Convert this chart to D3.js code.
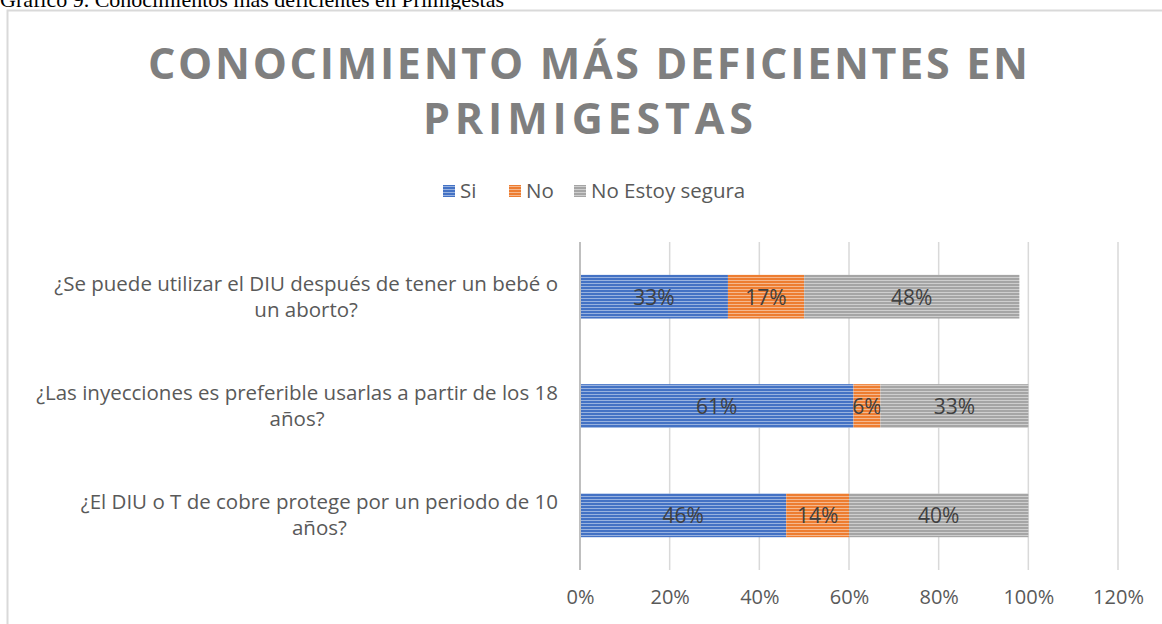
<!DOCTYPE html>
<html lang="es">
<head>
<meta charset="UTF-8">
<title>Conocimiento más deficientes en primigestas</title>
<style>
  body { margin: 0; background: #fff; }
  svg { display: block; }
</style>
</head>
<body>
<svg width="1162" height="624"></svg>
<script src="https://d3js.org/d3.v7.min.js"></script>
<script>

var categories = [
    ["¿Se puede utilizar el DIU después de tener un bebé o", "un aborto?"],
    ["¿Las inyecciones es preferible usarlas a partir de los 18", "años?"],
    ["¿El DIU o T de cobre protege por un periodo de 10", "años?"]
];
var seriesNames = ["Si", "No", "No Estoy segura"];
var siValues = [0.33, 0.61, 0.46];
var noValues = [0.17, 0.06, 0.14];
var noSeguraValues = [0.48, 0.33, 0.40];
var tickValues = [0, 0.2, 0.4, 0.6, 0.8, 1.0, 1.2];
var colors = ["#4472C4", "#ED7D31", "#A5A5A5"];

var svg = d3.select("svg");
var font = "'Open Sans', sans-serif";

// stripe patterns like the excel "narrow horizontal" fill
var defs = svg.append("defs");
colors.forEach(function(c, i) {
    var p = defs.append("pattern")
        .attr("id", "stripe" + i)
        .attr("patternUnits", "userSpaceOnUse")
        .attr("width", 8).attr("height", 3);
    p.append("rect").attr("width", 8).attr("height", 3).attr("fill", c);
    p.append("rect").attr("y", 1).attr("width", 8).attr("height", 1)
        .attr("fill", "#fff").attr("opacity", 0.45);
});

// caption above the frame (cut off at top, as in the source)
svg.append("text")
    .attr("x", 0).attr("y", 7)
    .attr("font-family", "'Liberation Serif', 'Times New Roman', serif")
    .attr("font-size", 22)
    .attr("fill", "#000")
    .text("Gráfico 9. Conocimientos más deficientes en Primigestas");

// chart frame
svg.append("rect")
    .attr("x", 7.5).attr("y", 10.5)
    .attr("width", 1170).attr("height", 640)
    .attr("fill", "#fff")
    .attr("stroke", "#d9d9d9").attr("stroke-width", 2);

// title
var titleLines = ["CONOCIMIENTO MÁS DEFICIENTES EN", "PRIMIGESTAS"];
var titleLens = [880, 330];
svg.selectAll(".title")
    .data(titleLines)
    .enter().append("text")
    .attr("class", "title")
    .attr("x", 588)
    .attr("y", function(d, i) { return 79 + i * 55; })
    .attr("text-anchor", "middle")
    .attr("font-family", font)
    .attr("font-weight", "bold")
    .attr("font-size", 43)
    .attr("fill", "#7f7f7f")
    .attr("textLength", function(d, i) { return titleLens[i]; })
    .attr("lengthAdjust", "spacing")
    .text(function(d) { return d; });

// scales
var x = d3.scaleLinear().domain([0, 1.2]).range([580, 1118]);
var y = d3.scaleBand().domain(d3.range(categories.length))
    .range([242, 570]).paddingInner(0.6).paddingOuter(0.3);

// gridlines
svg.append("g")
    .selectAll("line")
    .data(tickValues.slice(1))
    .enter().append("line")
    .attr("x1", function(d) { return x(d); })
    .attr("x2", function(d) { return x(d); })
    .attr("y1", 242).attr("y2", 570)
    .attr("stroke", "#d9d9d9").attr("stroke-width", 1.5);

// stacked data
var rows = categories.map(function(c, i) {
    return { Si: siValues[i], No: noValues[i], "No Estoy segura": noSeguraValues[i], idx: i };
});
var stack = d3.stack().keys(seriesNames)(rows);

var layers = svg.append("g").selectAll("g")
    .data(stack)
    .enter().append("g")
    .attr("fill", function(d, i) { return "url(#stripe" + i + ")"; });

layers.selectAll("rect")
    .data(function(d) { return d; })
    .enter().append("rect")
    .attr("x", function(d) { return x(d[0]); })
    .attr("width", function(d) { return x(d[1]) - x(d[0]); })
    .attr("y", function(d) { return y(d.data.idx); })
    .attr("height", y.bandwidth());

layers.selectAll("text")
    .data(function(d) { return d; })
    .enter().append("text")
    .attr("x", function(d) { return (x(d[0]) + x(d[1])) / 2; })
    .attr("y", function(d) { return y(d.data.idx) + y.bandwidth() / 2 + 8; })
    .attr("text-anchor", "middle")
    .attr("font-family", font)
    .attr("font-size", 21)
    .attr("fill", "#404040")
    .text(function(d) { return Math.round((d[1] - d[0]) * 100) + "%"; });

// left axis line
svg.append("line")
    .attr("x1", x(0)).attr("x2", x(0))
    .attr("y1", 242).attr("y2", 570)
    .attr("stroke", "#bfbfbf").attr("stroke-width", 2);

// x axis tick labels
var xAxis = svg.append("g")
    .attr("transform", "translate(0,590)")
    .call(d3.axisBottom(x).tickValues(tickValues).tickSize(0).tickPadding(0)
        .tickFormat(d3.format(".0%")));
xAxis.select(".domain").remove();
xAxis.selectAll("text")
    .attr("font-family", font)
    .attr("font-size", 20)
    .attr("fill", "#595959");

// category labels, centered lines ending near the axis
var labelG = svg.append("g").selectAll("g")
    .data(categories)
    .enter().append("g");

labelG.each(function(lines, i) {
    var g = d3.select(this);
    var cy = y(i) + y.bandwidth() / 2;
    var texts = g.selectAll("text")
        .data(lines)
        .enter().append("text")
        .attr("font-family", font)
        .attr("font-size", 20.5)
        .attr("fill", "#595959")
        .attr("text-anchor", "middle")
        .attr("y", function(d, j) { return cy - 6 + j * 26; })
        .text(function(d) { return d; });
    var maxW = d3.max(texts.nodes(), function(n) { return n.getComputedTextLength(); });
    texts.attr("x", 558 - maxW / 2);
});

// legend
var legend = svg.append("g").attr("transform", "translate(0,191)");
var legendX = [443, 509, 574];
var items = legend.selectAll("g")
    .data(seriesNames)
    .enter().append("g")
    .attr("transform", function(d, i) { return "translate(" + legendX[i] + ",0)"; });
items.append("rect")
    .attr("y", -6).attr("width", 12).attr("height", 12)
    .attr("fill", function(d, i) { return "url(#stripe" + i + ")"; });
items.append("text")
    .attr("x", 17).attr("y", 7)
    .attr("font-family", font)
    .attr("font-size", 20.5)
    .attr("fill", "#595959")
    .text(function(d) { return d; });

</script>
</body>
</html>
